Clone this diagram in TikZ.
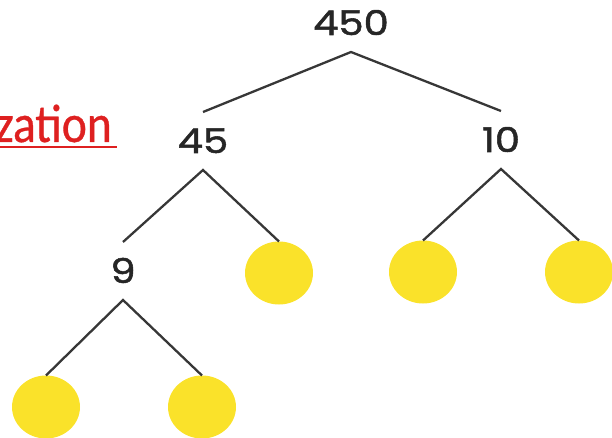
\documentclass[tikz,border=0pt]{standalone}
\usepackage{fontspec}
\setmainfont{Poppins}
\newfontfamily\numfont[FakeBold=1.6, FakeStretch=1.18]{Poppins}
\newfontfamily\redfont[FakeStretch=0.88, FakeBold=0.6]{Carlito}
\usetikzlibrary{shapes.geometric}
\definecolor{dotyellow}{RGB}{250,226,42}
\definecolor{linkred}{RGB}{222,32,32}
\definecolor{linegray}{RGB}{55,55,55}
\tikzset{
  num/.style={font=\numfont\fontsize{34}{34}\selectfont, text=black!85, text height=24pt, text depth=0pt,
              inner xsep=0pt, inner ysep=0pt, minimum height=58pt, outer sep=0pt},
  dot/.style={ellipse, fill=dotyellow, minimum width=68pt, minimum height=63pt, inner sep=0pt, outer sep=0pt},
  edge/.style={draw=linegray, line width=2.3pt},
}
\begin{document}
\begin{tikzpicture}[x=1pt,y=-1pt]
\useasboundingbox (0,0) rectangle (612,438);
% red link text
\node[anchor=base east, inner sep=0pt, font=\redfont\fontsize{54}{54}\selectfont, text=linkred] (link) at (112,142) {zation};
\coordinate (ulA) at (0,147);
\coordinate (ulB) at (117,147);
\draw[linkred, line width=2pt] (ulA) -- (ulB);
% numbers
\node[num] (n450) at (351,23) {450};
\node[num] (n45) at (203,141) {45};
\node[num] (n10) at (501,140) {10};
\node[num] (n9) at (123,271) {9};
% dots
\node[dot] (d1) at (279,273) {};
\node[dot] (d2) at (423,272) {};
\node[dot] (d3) at (579,272) {};
\node[dot] (d4) at (46,407) {};
\node[dot] (d5) at (202,407) {};
% edges
\draw[edge] (n45.north) -- (n450.south) -- (n10.north);
\draw[edge] (n9.north) -- (n45.south) -- (d1.north);
\draw[edge] (d2.north) -- (n10.south) -- (d3.north);
\draw[edge] (d4.north) -- (n9.south) -- (d5.north);
\end{tikzpicture}
\end{document}
